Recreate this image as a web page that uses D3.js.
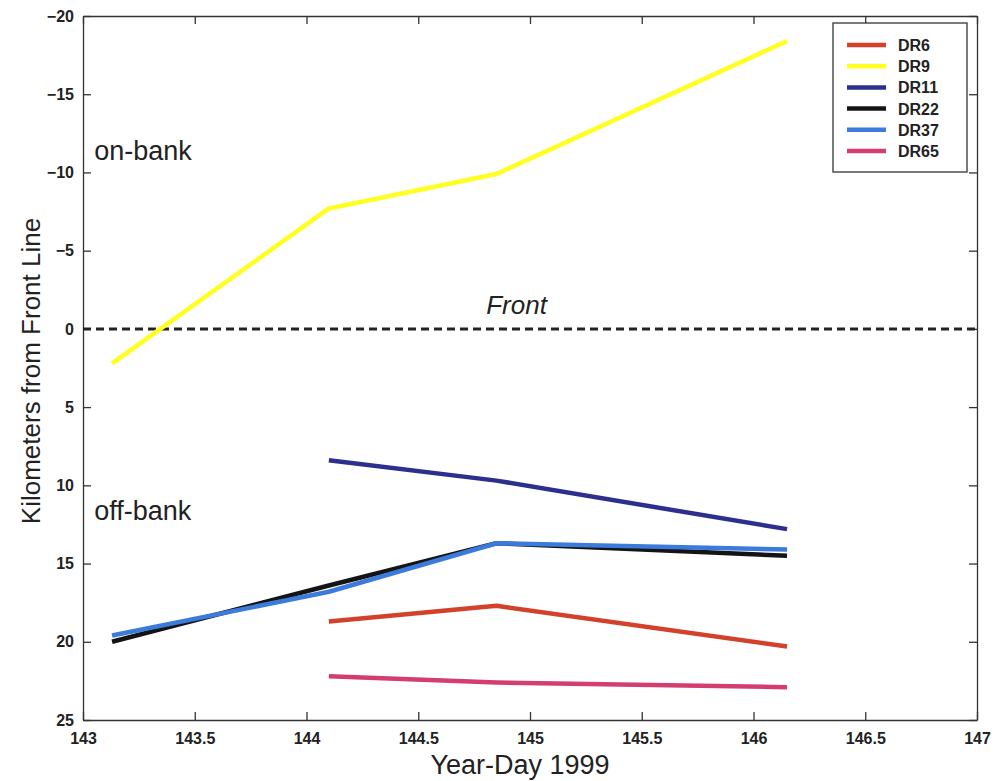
<!DOCTYPE html>
<html>
<head>
<meta charset="utf-8">
<script src="https://cdn.jsdelivr.net/npm/d3@7"></script>
<style>
  body { margin: 0; background: #fff; }
  svg { display: block; }
</style>
</head>
<body>
<div id="chart"></div>
<script>
// data
const days = [143.13, 144.1, 144.85, 146.15];
const dr6  = [null, 18.7, 17.7, 20.3];
const dr9  = [2.2, -7.7, -9.9, -18.4];
const dr11 = [null, 8.4, 9.7, 12.8];
const dr22 = [20.0, 16.4, 13.7, 14.5];
const dr37 = [19.6, 16.8, 13.7, 14.1];
const dr65 = [null, 22.2, 22.6, 22.9];

const seriesNames = ["DR6", "DR9", "DR11", "DR22", "DR37", "DR65"];
const seriesValues = [dr6, dr9, dr11, dr22, dr37, dr65];
const seriesColors = ["#d3412b", "#ffff22", "#2c2f8e", "#141414", "#3b7bdb", "#d43d70"];

const xTicks = [143, 143.5, 144, 144.5, 145, 145.5, 146, 146.5, 147];
const yTicks = [-20, -15, -10, -5, 0, 5, 10, 15, 20, 25];

const W = 995, H = 781;
const mLeft = 83, mRight = 977, mTop = 16, mBottom = 720;

let svg = d3.select("#chart")
            .append("svg")
            .attr("width", W)
            .attr("height", H)
            .style("font-family", "'Liberation Sans', Arial, sans-serif");

let xScale = d3.scaleLinear([143, 147], [mLeft, mRight]);
let yScale = d3.scaleLinear([-20, 25], [mTop, mBottom]);

// bottom axis
let xAxis = svg.append("g")
   .attr("transform", `translate(0, ${mBottom})`)
   .call(d3.axisBottom(xScale).tickValues(xTicks).tickSizeInner(-8).tickSizeOuter(0).tickPadding(13)
         .tickFormat(d => String(d)));
xAxis.selectAll("text").style("font-size", "16px").style("font-weight", "bold").attr("fill", "#222");

// left axis
let yAxis = svg.append("g")
   .attr("transform", `translate(${mLeft}, 0)`)
   .call(d3.axisLeft(yScale).tickValues(yTicks).tickSizeInner(-8).tickSizeOuter(0).tickPadding(9)
         .tickFormat(d => d < 0 ? "\u2212" + Math.abs(d) : String(d)));
yAxis.selectAll("text").style("font-size", "16px").style("font-weight", "bold").attr("fill", "#222");

// top and right axes, ticks only
svg.append("g")
   .attr("transform", `translate(0, ${mTop})`)
   .call(d3.axisTop(xScale).tickValues(xTicks).tickSizeInner(-8).tickSizeOuter(0).tickFormat(""));
svg.append("g")
   .attr("transform", `translate(${mRight}, 0)`)
   .call(d3.axisRight(yScale).tickValues(yTicks).tickSizeInner(-8).tickSizeOuter(0).tickFormat(""));

svg.selectAll(".domain, .tick line").attr("stroke", "#333").attr("stroke-width", 1.3);

// front line
svg.append("line")
   .attr("x1", xScale(143)).attr("x2", xScale(147))
   .attr("y1", yScale(0)).attr("y2", yScale(0))
   .attr("stroke", "#222")
   .attr("stroke-width", 3)
   .attr("stroke-dasharray", "8,5");

svg.append("text")
   .attr("x", xScale(144.94)).attr("y", yScale(-0.95))
   .attr("text-anchor", "middle")
   .style("font-size", "26px")
   .style("font-style", "italic")
   .attr("fill", "#222")
   .text("Front");

svg.append("text")
   .attr("x", xScale(143.05)).attr("y", yScale(-10.8))
   .style("font-size", "27px")
   .attr("fill", "#222")
   .text("on-bank");

svg.append("text")
   .attr("x", xScale(143.05)).attr("y", yScale(12.2))
   .style("font-size", "27px")
   .attr("fill", "#222")
   .text("off-bank");

// drifter lines
const dMaker = d3.line()
  .defined(d => d.v !== null)
  .x(d => xScale(d.day))
  .y(d => yScale(d.v));

seriesNames.forEach((name, i) => {
  const pts = days.map((day, j) => ({ day: day, v: seriesValues[i][j] }));
  svg.append("path")
     .datum(pts)
     .attr("class", "dr-line")
     .attr("fill", "none")
     .attr("stroke", seriesColors[i])
     .attr("stroke-width", 4.5)
     .attr("stroke-linejoin", "round")
     .attr("d", dMaker);
});

// legend
let legend = svg.append("g").attr("transform", "translate(833, 23)");
legend.append("rect")
      .attr("width", 134).attr("height", 149)
      .attr("fill", "#fff")
      .attr("stroke", "#333")
      .attr("stroke-width", 1.3);

seriesNames.forEach((name, i) => {
  const y = 22 + i * 21.2;
  legend.append("line")
        .attr("x1", 14).attr("x2", 53)
        .attr("y1", y).attr("y2", y)
        .attr("stroke", seriesColors[i])
        .attr("stroke-width", 4.5);
  legend.append("text")
        .attr("x", 65).attr("y", y + 6)
        .style("font-size", "16px")
        .style("font-weight", "bold")
        .attr("fill", "#222")
        .text(name);
});

// axis titles
svg.append("text")
   .attr("x", (mLeft + mRight) / 2 - 10).attr("y", 774)
   .attr("text-anchor", "middle")
   .style("font-size", "27px")
   .attr("fill", "#222")
   .text("Year-Day 1999");

svg.append("text")
   .attr("transform", `translate(40, ${(mTop + mBottom) / 2 + 3}) rotate(-90)`)
   .attr("text-anchor", "middle")
   .style("font-size", "26px")
   .attr("fill", "#222")
   .text("Kilometers from Front Line");
</script>
</body>
</html>
